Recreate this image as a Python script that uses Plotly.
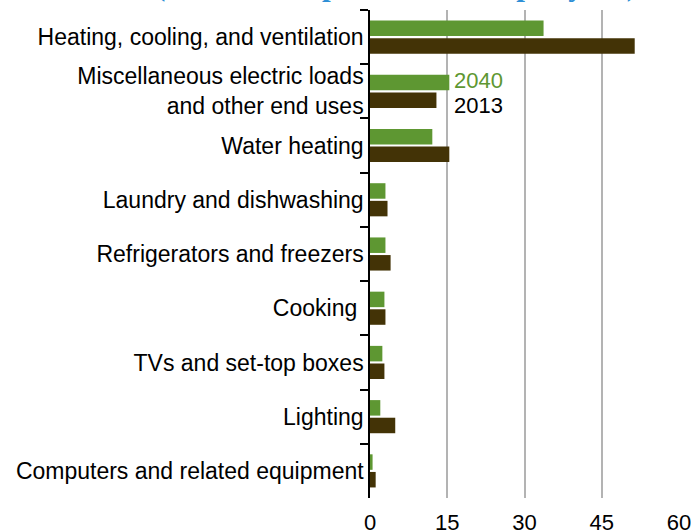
import plotly.graph_objects as go

categories = [
    "Heating, cooling, and ventilation",
    "Miscellaneous electric loads<br>and other end uses",
    "Water heating",
    "Laundry and dishwashing",
    "Refrigerators and freezers",
    "Cooking\u00a0",
    "TVs and set-top boxes",
    "Lighting",
    "Computers and related equipment",
]
values_2040 = [33.7, 15.4, 12.1, 3.0, 3.0, 2.8, 2.4, 2.0, 0.5]
values_2013 = [51.4, 12.9, 15.4, 3.4, 4.0, 3.0, 2.8, 4.9, 1.1]
x_ticks = [0, 15, 30, 45, 60]
title_text = "(million Btu per household per year)"

GREEN = "#5E9732"
BROWN = "#433306"

fig = go.Figure()
fig.add_trace(go.Bar(y=categories, x=values_2040, orientation="h", name="2040",
                     marker=dict(color=GREEN, line=dict(width=0))))
fig.add_trace(go.Bar(y=categories, x=values_2013, orientation="h", name="2013",
                     marker=dict(color=BROWN, line=dict(width=0))))

L, R, T, B = 370, 15, 10, 33
fig.update_layout(
    width=694, height=531,
    margin=dict(l=L, r=R, t=T, b=B),
    paper_bgcolor="white", plot_bgcolor="white",
    barmode="group", bargap=0.35, bargroupgap=0.12,
    showlegend=False,
    font=dict(family="Liberation Sans, Arial, sans-serif", color="black"),
)
fig.update_xaxes(
    range=[0, 60], tickvals=x_ticks, ticktext=[str(v) for v in x_ticks],
    showgrid=True, gridcolor="#b3b3b3", gridwidth=1.5,
    zeroline=False, showline=False, ticks="",
    tickfont=dict(size=22, color="black"), ticklabelstandoff=9,
    automargin=False,
)
fig.update_yaxes(
    autorange="reversed", showline=True, linecolor="black", linewidth=1.5,
    ticks="outside", ticklen=8, tickcolor="black", tickwidth=1.5,
    tickson="boundaries", showgrid=False,
    tickfont=dict(size=23, color="black"), automargin=False,
)

fig.add_annotation(x=16.0, y=categories[1], xref="x", yref="y", text="2040",
                   showarrow=False, xanchor="left", yanchor="middle", yshift=11,
                   font=dict(size=22, color=GREEN))
fig.add_annotation(x=16.0, y=categories[1], xref="x", yref="y", text="2013",
                   showarrow=False, xanchor="left", yanchor="middle", yshift=-14,
                   font=dict(size=22, color="black"))
plot_w = 694 - L - R
plot_h = 531 - T - B
fig.add_annotation(x=(396 - L) / plot_w, y=1 + 6 / plot_h, xref="paper", yref="paper",
                   text="<b>" + title_text + "</b>",
                   showarrow=False, xanchor="center", yanchor="bottom",
                   font=dict(size=31, color="#2E8FD6", family="Liberation Serif, Times New Roman, serif"))

fig.write_html("out.html", config={"displayModeBar": False},
               post_script="document.body.style.margin='0';")
